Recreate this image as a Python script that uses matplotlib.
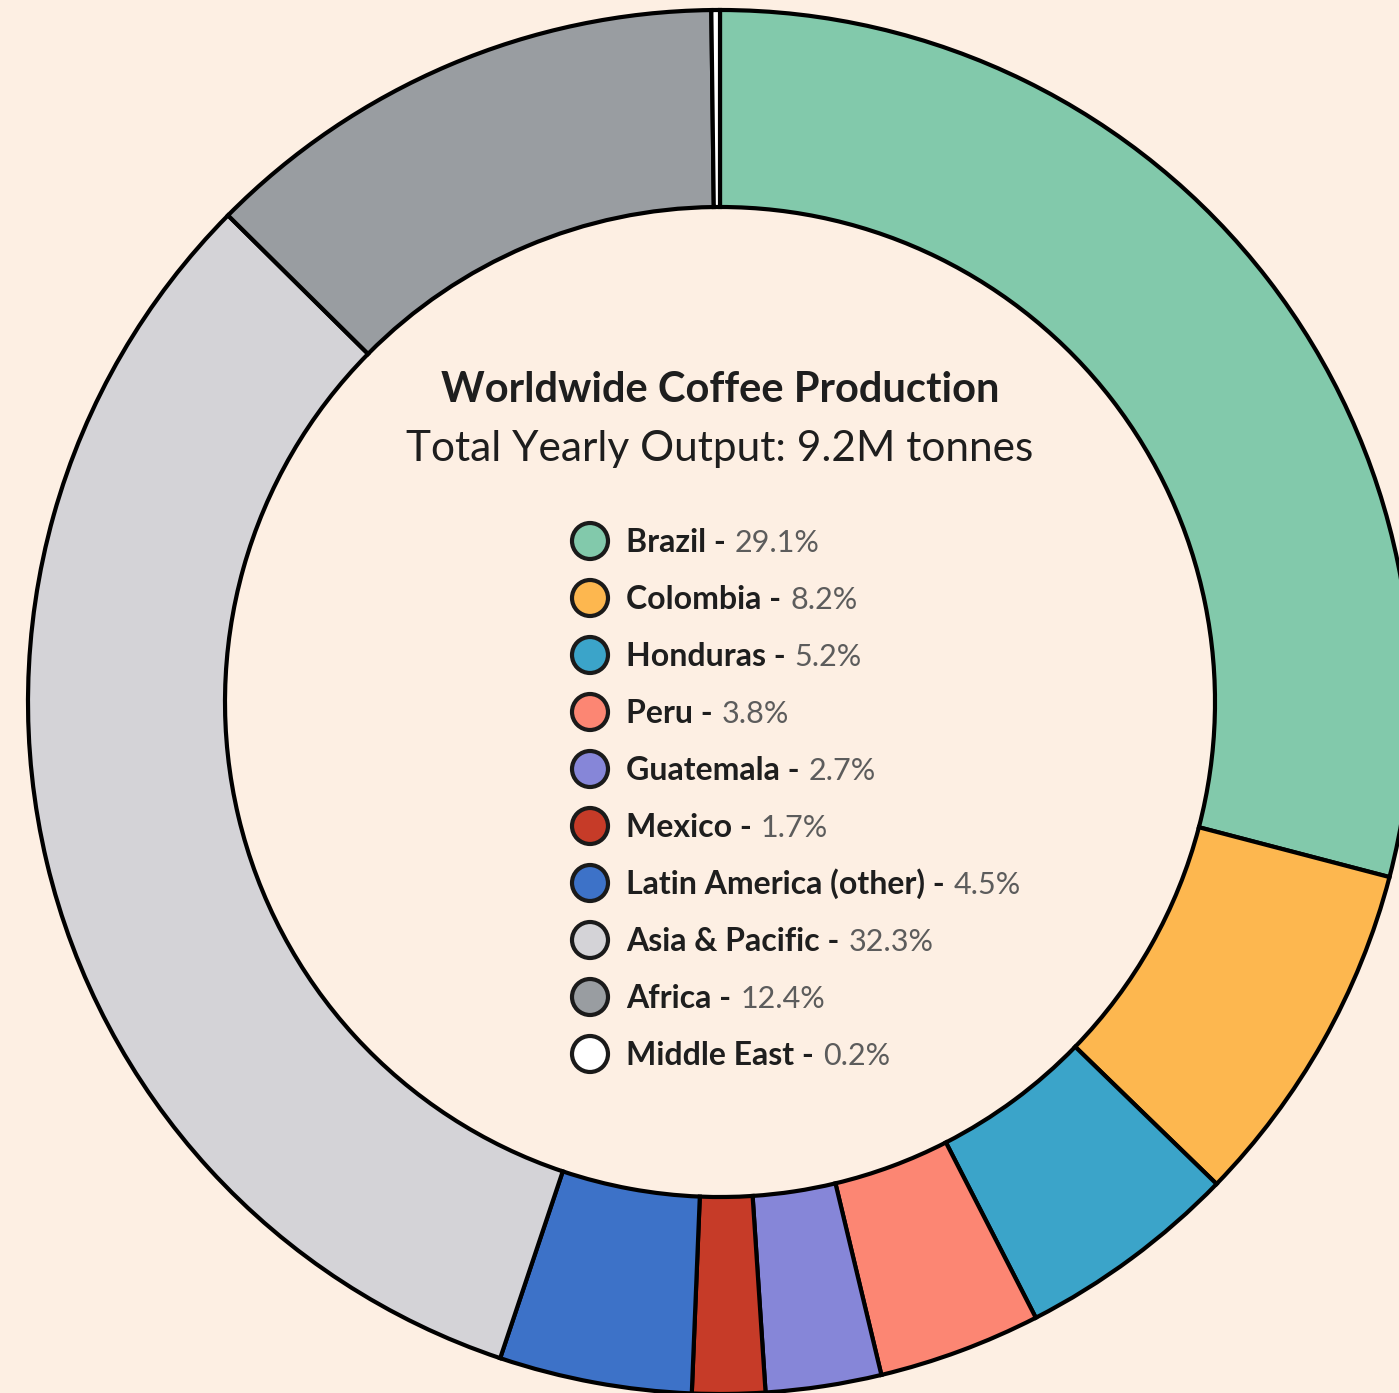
import matplotlib
matplotlib.use('Agg')
import matplotlib.pyplot as plt
from matplotlib.patches import Circle

regions = ['Brazil', 'Colombia', 'Honduras', 'Peru', 'Guatemala', 'Mexico',
           'Latin America (other)', 'Asia & Pacific', 'Africa', 'Middle East']
shares = [29.1, 8.2, 5.2, 3.8, 2.7, 1.7, 4.5, 32.3, 12.4, 0.2]
colors = ['#82c9ab', '#fdb74f', '#3ba4c9', '#fc8673', '#8686d8', '#c63b28',
          '#3d72c8', '#d4d3d7', '#999da1', '#ffffff']
title = 'Worldwide Coffee Production'
subtitle = 'Total Yearly Output: 9.2M tonnes'

bg = '#fdefe3'
W, H = 1399, 1393
cx, cy = 720, 702          # ring centre in pixels
R, ring = 692, 197         # outer radius and ring width in pixels

fig = plt.figure(figsize=(W / 100, H / 100), dpi=100, facecolor=bg)
ax = fig.add_axes([0, 0, 1, 1])
ax.set_facecolor(bg)
ax.set_aspect('equal')
ax.axis('off')

ax.pie(shares, colors=colors, radius=R, startangle=90, counterclock=False,
       wedgeprops=dict(width=ring, edgecolor='black', linewidth=3))
ax.set_xlim(-cx, W - cx)
ax.set_ylim(-(H - cy), cy)

ax.text(0, cy - 390, title, ha='center', va='center', fontsize=30,
        fontweight='bold', family='Lato', color='#1e1e1e')
ax.text(0, cy - 449, subtitle, ha='center', va='center', fontsize=30.5,
        family='Lato', color='#1e1e1e')

# legend drawn by hand so names and percentages can differ in weight
fig.canvas.draw()
renderer = fig.canvas.get_renderer()
y0, step = 541, 57
for i, (name, val, col) in enumerate(zip(regions, shares, colors)):
    y = cy - (y0 + i * step)
    ax.add_patch(Circle((590 - cx, y), 18, facecolor=col, edgecolor='#1a1a1a',
                        linewidth=3, zorder=3))
    t = ax.text(626 - cx, y - 11, name + ' -', ha='left', va='baseline',
                fontsize=23, fontweight='bold', family='Lato', color='#1e1e1e')
    bb = t.get_window_extent(renderer).transformed(ax.transData.inverted())
    ax.text(bb.x1 + 9, y - 11, f'{val}%', ha='left', va='baseline',
            fontsize=22, fontweight='normal', family='Lato', color='#5c5c5c')

fig.savefig('out.png', dpi=100, facecolor=bg)
plt.close(fig)
